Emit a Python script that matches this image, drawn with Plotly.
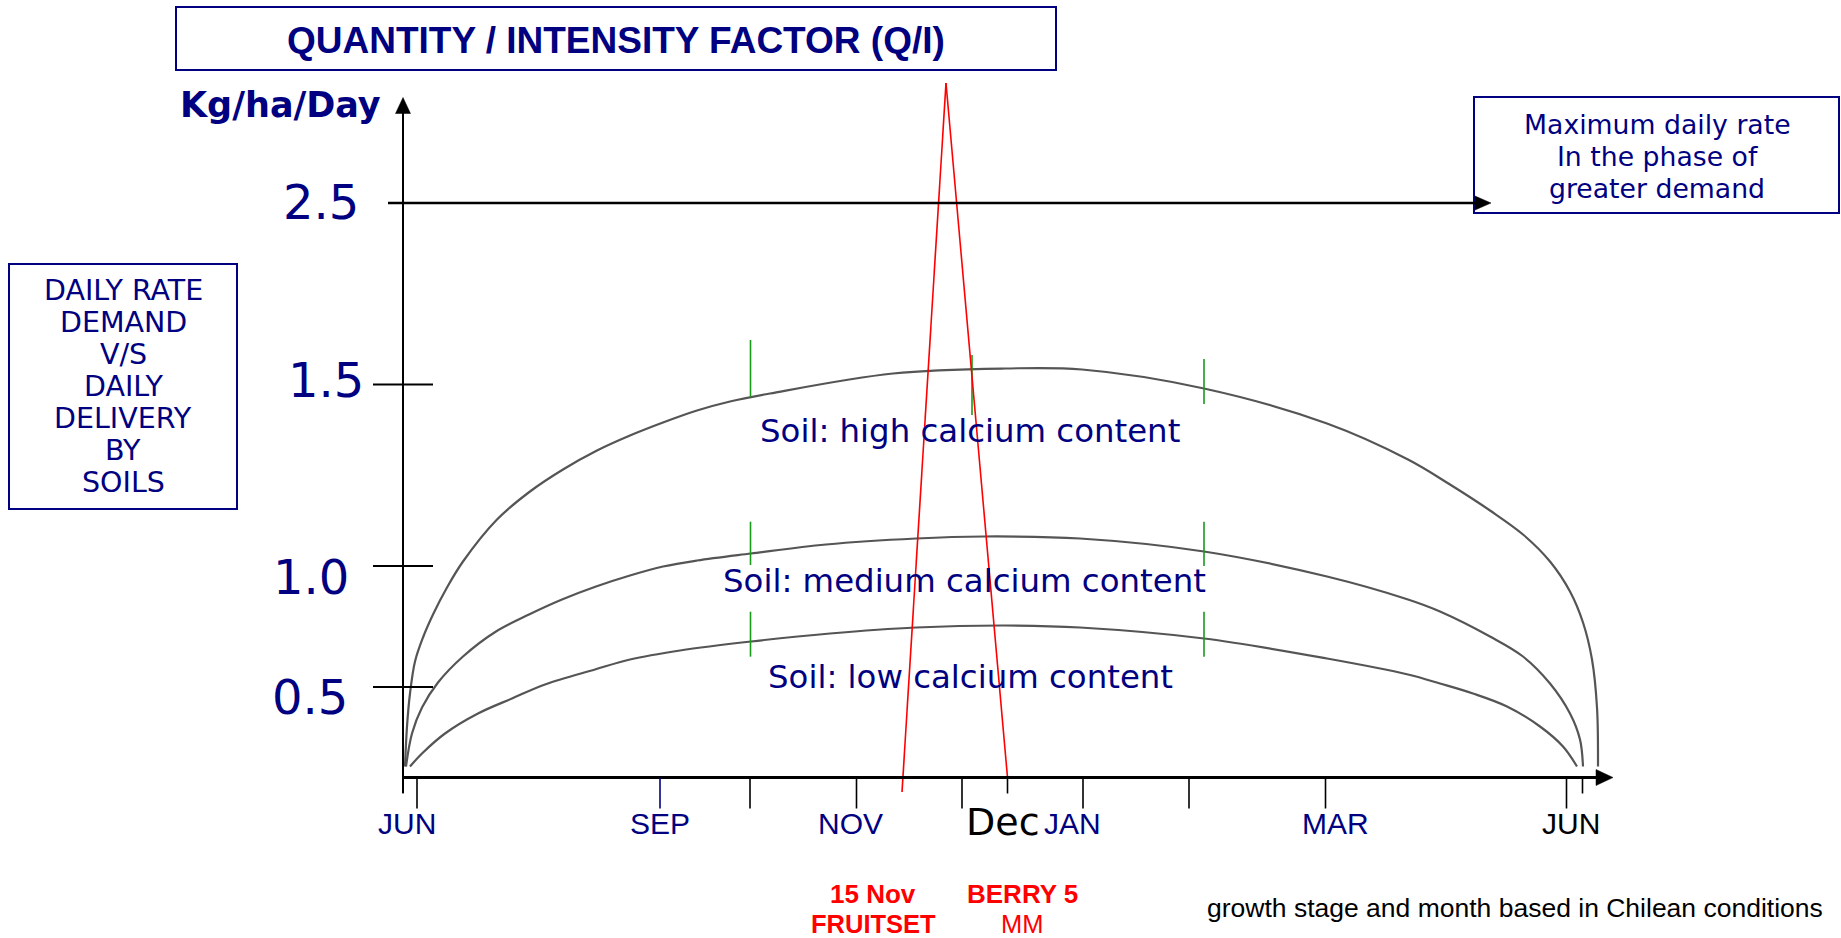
import plotly.graph_objects as go

# ------------------------------------------------------------------
# Schematic coordinates: origin where the two axes cross,
# x = position along the season, y = height on the rate scale
# (the original drawing is a schematic with non-linear axes).
# ------------------------------------------------------------------

# Soil supply curves
high_x = [2, 4, 7, 12, 20, 30, 44, 60, 94, 127, 160, 194, 227, 260, 294, 327, 367,
          490, 602, 679, 801, 924, 1005, 1047, 1087, 1120, 1147, 1167, 1180, 1189, 1194, 1195]
high_y = [11, 51, 84, 116, 140, 163, 190, 216, 258, 286, 308, 327, 342, 355, 367, 376, 384,
          404, 409, 408, 389, 354, 318, 293, 267, 243, 216, 186, 155, 118, 70, 11]

medium_x = [3, 9, 19, 35, 60, 93, 126, 159, 193, 227, 260, 294, 348, 423, 513, 580, 677,
            801, 924, 1005, 1037, 1087, 1120, 1147, 1167, 1177, 1180]
medium_y = [11, 44, 70, 95, 121, 146, 163, 178, 191, 202, 211, 217, 224, 233, 239, 241, 239,
            226, 201, 178, 166, 141, 121, 94, 64, 38, 11]

low_x = [7, 19, 42, 75, 109, 142, 192, 227, 277, 348, 427, 513, 602, 677, 801, 924, 1005,
         1037, 1070, 1104, 1137, 1160, 1174]
low_y = [11, 24, 44, 64, 79, 93, 108, 118, 127, 136, 144, 150, 152, 150, 139, 119, 103,
         94, 84, 71, 51, 31, 11]

soil_labels = ["Soil: high calcium content", "Soil: medium calcium content", "Soil: low calcium content"]

# y scale tick labels and their heights on the schematic
y_tick_labels = ["2.5", "1.5", "1.0", "0.5"]
y_tick_pos = [574.5, 393, 211.5, 90.5]

# month labels along the season axis
month_labels = ["JUN", "SEP", "NOV", "Dec", "JAN", "MAR", "JUN"]
month_label_pos = [4, 257, 447, 599.5, 669, 932, 1168]

# season axis tick marks (position, long/short)
x_tick_pos = [0, 14, 257, 347, 453.5, 559, 604.5, 680, 786, 922.5, 1163.5, 1179.5]
x_tick_long = [False, True, True, True, True, True, False, True, True, True, True, False]

# green stage markers on the curves
green_x = [347.5, 347.5, 347.5, 569, 801, 801, 801]
green_y0 = [380.5, 212.5, 120.8, 362.5, 373.5, 211.5, 120.8]
green_y1 = [437.5, 255.8, 165.8, 422.5, 418.5, 255.8, 165.8]

# red phenology lines (fruitset 15 Nov, berry 5 mm)
fruitset_x = [499, 543]
fruitset_y = [-14.5, 694.5]
berry_x = [543, 604.5]
berry_y = [694.5, 0]

# maximum daily rate level (2.5)
max_rate_level = 574.5
max_rate_x = [-15, 1088]

# ------------------------------------------------------------------
NAVY = "#000080"
GREY = "#555555"
W, H = 1841, 938
OX, OY = 403, 777.5     # pixel position of the origin


def P(px, py):
    return px - OX, OY - py


fig = go.Figure()

# curves
for xs, ys in [(high_x, high_y), (medium_x, medium_y), (low_x, low_y)]:
    fig.add_trace(go.Scatter(x=xs, y=ys, mode="lines",
                             line=dict(color=GREY, width=2.2, shape="spline", smoothing=1.0),
                             hoverinfo="skip"))

# green markers
for gx, a, b in zip(green_x, green_y0, green_y1):
    fig.add_trace(go.Scatter(x=[gx, gx], y=[a, b], mode="lines", line=dict(color="#1a9a1a", width=1.6),
                             hoverinfo="skip"))

# red lines
fig.add_trace(go.Scatter(x=fruitset_x, y=fruitset_y, mode="lines", line=dict(color="#ff0000", width=1.6), hoverinfo="skip"))
fig.add_trace(go.Scatter(x=berry_x, y=berry_y, mode="lines", line=dict(color="#ff0000", width=1.6), hoverinfo="skip"))

shapes = []
# y axis and x axis
shapes.append(dict(type="line", xref="x", yref="y", x0=0, y0=-15.5, x1=0, y1=668, line=dict(color="black", width=2)))
shapes.append(dict(type="line", xref="x", yref="y", x0=0, y0=0, x1=1196, y1=0, line=dict(color="black", width=3)))
# arrowheads
shapes.append(dict(type="path", xref="x", yref="y",
                   path="M -7.5,664 L 7.5,664 L 0,680 Z", fillcolor="black", line=dict(color="black", width=0.5)))
shapes.append(dict(type="path", xref="x", yref="y",
                   path="M 1193,8 L 1193,-8 L 1210,0 Z", fillcolor="black", line=dict(color="black", width=0.5)))
# max rate arrow
shapes.append(dict(type="line", xref="x", yref="y", x0=max_rate_x[0], y0=max_rate_level, x1=max_rate_x[1] - 14,
                   y1=max_rate_level, line=dict(color="black", width=2.5)))
shapes.append(dict(type="path", xref="x", yref="y",
                   path=f"M {max_rate_x[1]-16},{max_rate_level+7} L {max_rate_x[1]-16},{max_rate_level-7} L {max_rate_x[1]},{max_rate_level} Z",
                   fillcolor="black", line=dict(color="black", width=0.5)))
# y ticks
for yp in y_tick_pos[1:]:
    shapes.append(dict(type="line", xref="x", yref="y", x0=-30, y0=yp, x1=30, y1=yp, line=dict(color="black", width=2)))
# x ticks
for xp, lg in zip(x_tick_pos, x_tick_long):
    col = NAVY if abs(xp - 257) < 1 else "black"
    shapes.append(dict(type="line", xref="x", yref="y", x0=xp, y0=0, x1=xp, y1=-31 if lg else -16,
                       line=dict(color=col, width=1.6)))

# boxes
for (x0, y0, x1, y1) in [(176, 7, 1056, 70), (9, 264, 237, 509), (1474, 97, 1839, 213)]:
    a0, b0 = P(x0, y0)
    a1, b1 = P(x1, y1)
    shapes.append(dict(type="rect", xref="x", yref="y", x0=a0, y0=b0, x1=a1, y1=b1,
                       line=dict(color=NAVY, width=2), fillcolor="rgba(0,0,0,0)", layer="below"))

ann = []


def text(s, px, py, size, color=NAVY, family="DejaVu Sans", weight="normal"):
    x, y = P(px, py)
    ann.append(dict(x=x, y=y, xref="x", yref="y", text=s, showarrow=False, xanchor="center", yanchor="middle",
                    font=dict(family=family, size=size, color=color, weight=weight)))


text("QUANTITY / INTENSITY FACTOR (Q/I)", 616, 40, 37, family="Liberation Sans", weight="bold")
text("Kg/ha/Day", 280, 105, 35, weight="bold")

for lab, (lx, ly) in zip(y_tick_labels, [(321, 202), (326, 380), (311, 577), (310, 697)]):
    text(lab, lx, ly, 48)

left_lines = ["DAILY RATE", "DEMAND", "V/S", "DAILY", "DELIVERY", "BY", "SOILS"]
for i, s in enumerate(left_lines):
    text(s, 123, 290 + 32 * i, 28.5)

for i, s in enumerate(["Maximum daily rate", "In the phase of", "greater demand"]):
    text(s, 1657, 124 + 32 * i, 26.7)

for s, (lx, ly) in zip(soil_labels, [(970, 431), (964, 581), (970, 677)]):
    text(s, lx, ly, 32.4)

for lab, xp in zip(month_labels, month_label_pos):
    if lab == "Dec":
        ann.append(dict(x=xp, y=OY - 822, xref="x", yref="y", text=lab, showarrow=False, xanchor="center",
                        yanchor="middle", font=dict(family="DejaVu Sans", size=38, color="black")))
    else:
        col = "black" if xp > 1100 else NAVY
        ann.append(dict(x=xp, y=OY - 823, xref="x", yref="y", text=lab, showarrow=False, xanchor="center",
                        yanchor="middle", font=dict(family="Liberation Sans", size=30, color=col)))

text("15 Nov", 873, 894, 26, color="#ff0000", family="Liberation Sans", weight="bold")
text("FRUITSET", 873, 924, 25.5, color="#ff0000", family="Liberation Sans", weight="bold")
text("BERRY 5", 1022, 894, 26, color="#ff0000", family="Liberation Sans", weight="bold")
text("MM", 1022, 924, 25.5, color="#ff0000", family="Liberation Sans")
text("growth stage and month based in Chilean conditions", 1515, 908, 26.5, color="black", family="Liberation Sans")

fig.update_layout(
    width=W, height=H, autosize=False,
    margin=dict(l=0, r=0, t=0, b=0, pad=0),
    paper_bgcolor="white", plot_bgcolor="white",
    showlegend=False,
    xaxis=dict(range=[-OX, W - OX], visible=False, fixedrange=True),
    yaxis=dict(range=[OY - H, OY], visible=False, fixedrange=True),
    shapes=shapes, annotations=ann,
)

fig.write_html("out.html", config={"displayModeBar": False},
               post_script="document.body.style.margin='0';document.body.style.overflow='hidden';")
